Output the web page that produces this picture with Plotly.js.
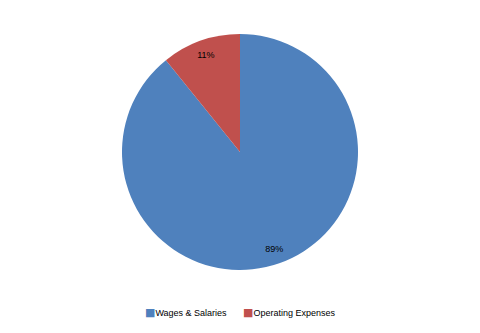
<!DOCTYPE html>
<html>
<head>
<meta charset="utf-8">
<script src="https://cdn.plot.ly/plotly-3.0.1.min.js"></script>
<style>html,body{margin:0;padding:0;background:#fff;}#chart{width:480px;height:333px;}</style>
</head>
<body>
<div id="chart"></div>
<script>
const categories = ["Wages & Salaries", "Operating Expenses"];
const shares = [89.2, 10.8];
const colors = ["#4F81BD", "#C0504D"];

const pieDomain = {x: [122/480, 358/480], y: [63/333, 299/333]};
const labelFont = {family: "Liberation Sans, Arial, sans-serif", size: 9, color: "#000"};

const data = [{
  type: "pie",
  labels: categories,
  values: shares,
  sort: false,
  direction: "clockwise",
  rotation: 0,
  marker: {colors: colors, line: {width: 0}},
  textinfo: "none",
  hoverinfo: "none",
  showlegend: false,
  domain: pieDomain
}, {
  // transparent ring that only carries the percentage labels
  type: "pie",
  labels: categories,
  values: shares,
  sort: false,
  direction: "clockwise",
  rotation: 0,
  hole: 0.74,
  marker: {colors: ["rgba(0,0,0,0)", "rgba(0,0,0,0)"], line: {width: 0}},
  texttemplate: "%{percent:.0%}",
  textposition: "inside",
  insidetextorientation: "horizontal",
  textfont: labelFont,
  hoverinfo: "none",
  showlegend: false,
  domain: pieDomain
}];

const legendX = [143, 241];
const annotations = categories.map((c, i) => ({
  xref: "paper", yref: "paper",
  x: legendX[i] / 480, y: (333 - 312) / 333,
  xanchor: "left", yanchor: "middle",
  showarrow: false,
  text: '<span style="color:' + colors[i] + ';font-size:11px;font-family:DejaVu Sans">■</span>' + c,
  font: labelFont
}));

const layout = {
  width: 480, height: 333,
  margin: {l: 0, r: 0, t: 0, b: 0},
  paper_bgcolor: "#fff",
  showlegend: false,
  annotations: annotations
};

Plotly.newPlot("chart", data, layout, {displayModeBar: false, staticPlot: true});
</script>
</body>
</html>
